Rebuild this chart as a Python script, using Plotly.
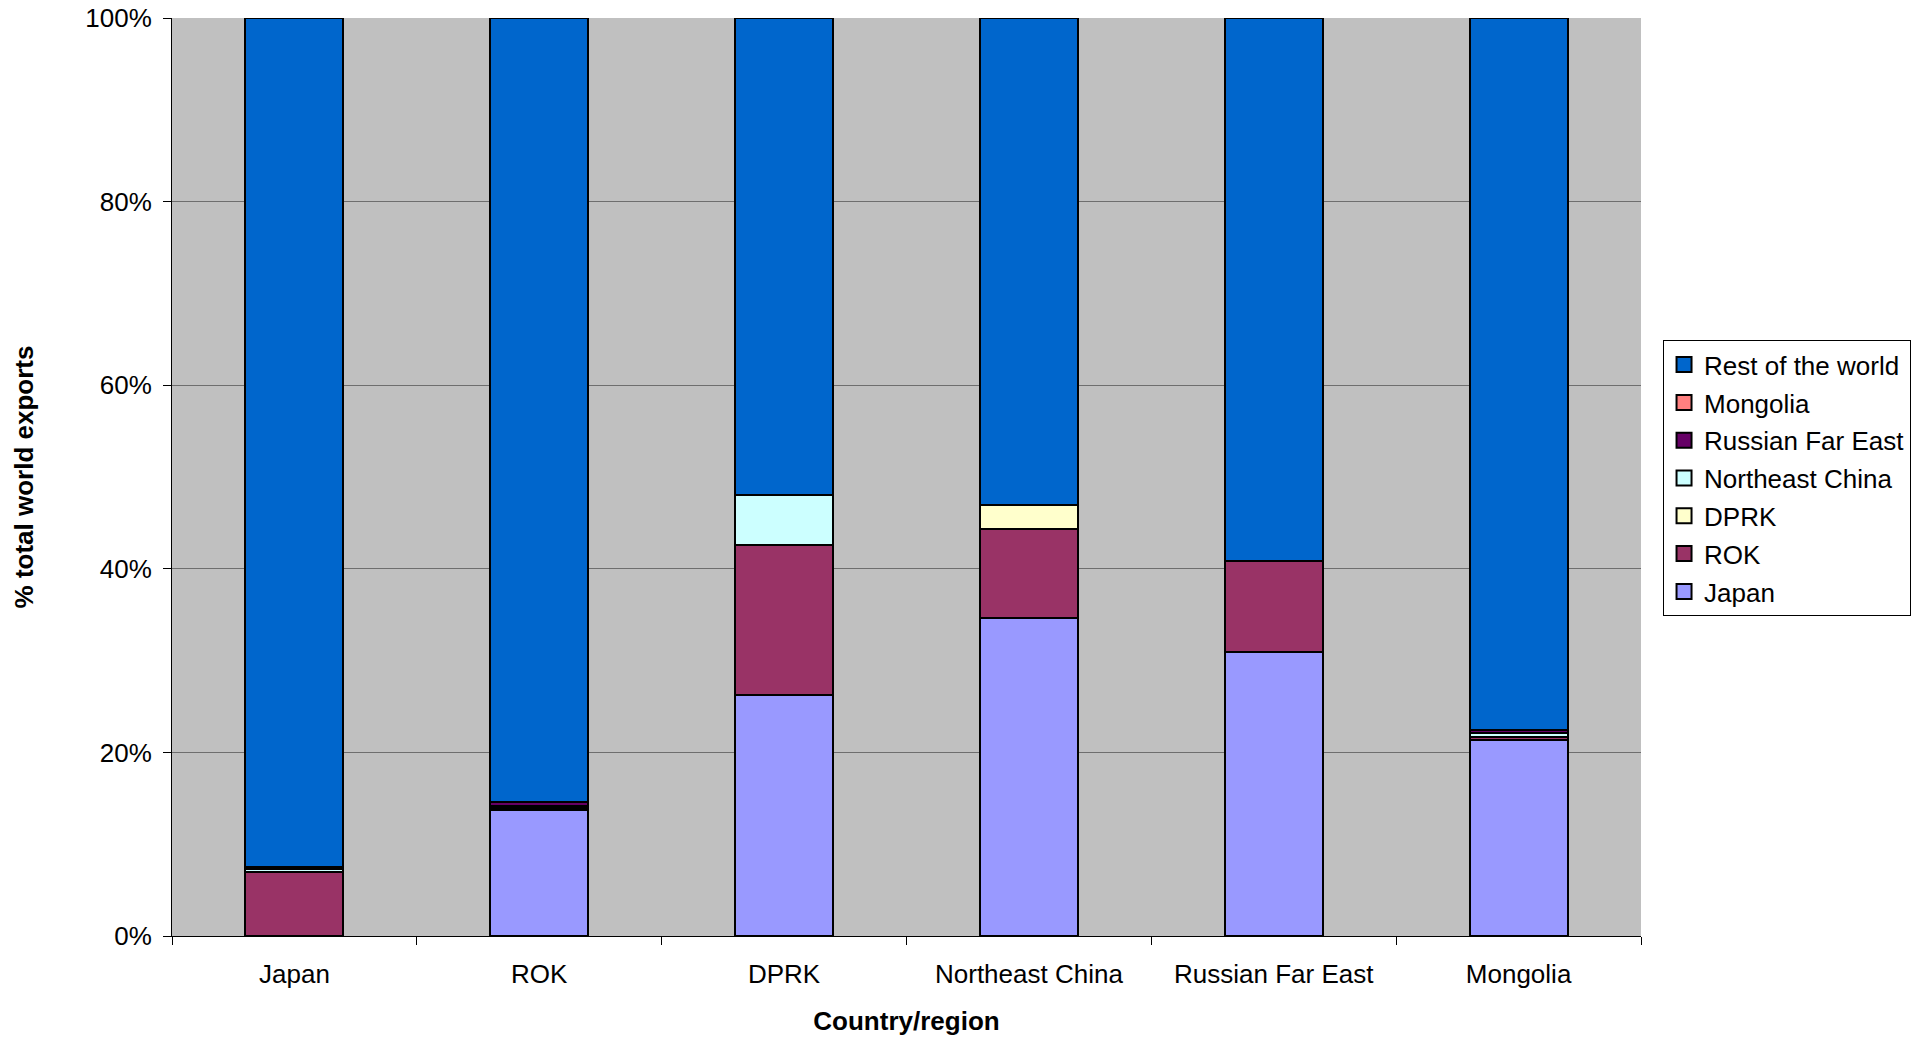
import plotly.graph_objects as go

categories = ["Japan", "ROK", "DPRK", "Northeast China", "Russian Far East", "Mongolia"]

# % of total world exports, by destination (stack order bottom -> top)
japan = [0.0, 13.7, 26.3, 34.6, 30.9, 21.3]
rok = [7.0, 0.0, 16.3, 9.7, 9.9, 0.4]
dprk = [0.0, 0.2, 0.0, 2.6, 0.0, 0.0]
northeast_china = [0.3, 0.3, 5.4, 0.0, 0.0, 0.4]
russian_far_east = [0.2, 0.4, 0.0, 0.0, 0.0, 0.3]
mongolia = [0.0, 0.0, 0.0, 0.0, 0.0, 0.0]
rest_of_world = [92.5, 85.4, 52.0, 53.1, 59.2, 77.6]

y_ticks = [0, 20, 40, 60, 80, 100]
y_tick_labels = ["0%", "20%", "40%", "60%", "80%", "100%"]

series = [
    ("Japan", japan, "#9999FF"),
    ("ROK", rok, "#993366"),
    ("DPRK", dprk, "#FFFFCC"),
    ("Northeast China", northeast_china, "#CCFFFF"),
    ("Russian Far East", russian_far_east, "#660066"),
    ("Mongolia", mongolia, "#FF8080"),
    ("Rest of the world", rest_of_world, "#0066CC"),
]

FONT = "Liberation Sans, Arial, sans-serif"
FS = 26

fig = go.Figure()
for name, vals, color in series:
    fig.add_trace(go.Bar(
        x=categories, y=vals, name=name, showlegend=False,
        marker=dict(color=color, line=dict(color="black", width=2)),
        width=0.4,
    ))

# legend entries (top: Rest of the world ... bottom: Japan)
for name, vals, color in reversed(series):
    fig.add_trace(go.Scatter(
        x=[None], y=[None], mode="markers", name=name, legendgroup=name,
        marker=dict(symbol="square", size=15, color=color, line=dict(color="black", width=2)),
    ))

fig.update_layout(
    barmode="stack",
    width=1917, height=1038,
    margin=dict(l=172, r=276, t=18, b=102, autoexpand=False),
    paper_bgcolor="white",
    plot_bgcolor="#C0C0C0",
    font=dict(family=FONT, size=FS, color="black"),
    showlegend=True,
    legend=dict(
        x=1.015, xanchor="left", y=0.649, yanchor="top",
        traceorder="grouped", tracegroupgap=1,
        bgcolor="white", bordercolor="black", borderwidth=1,
        font=dict(family=FONT, size=FS, color="black"),
        itemwidth=30,
    ),
    xaxis=dict(
        automargin=False,
        showline=True, linecolor="black", linewidth=1,
        ticks="outside", tickson="boundaries", ticklen=8, tickcolor="black",
        ticklabelstandoff=15,
        showgrid=False,
        tickfont=dict(family=FONT, size=FS),
        title=dict(text="<b>Country/region</b>", font=dict(family=FONT, size=FS), standoff=23),
    ),
    yaxis=dict(
        automargin=False,
        range=[0, 100],
        tickvals=y_ticks, ticktext=y_tick_labels,
        showline=True, linecolor="black", linewidth=1,
        ticks="outside", ticklen=8, tickcolor="black",
        ticklabelstandoff=6,
        showgrid=True, gridcolor="#6E6E6E", gridwidth=1,
        zeroline=False,
        tickfont=dict(family=FONT, size=FS),
        title=dict(text="<b>% total world exports</b>", font=dict(family=FONT, size=FS), standoff=44),
    ),
)

fig.write_html("out.html")
